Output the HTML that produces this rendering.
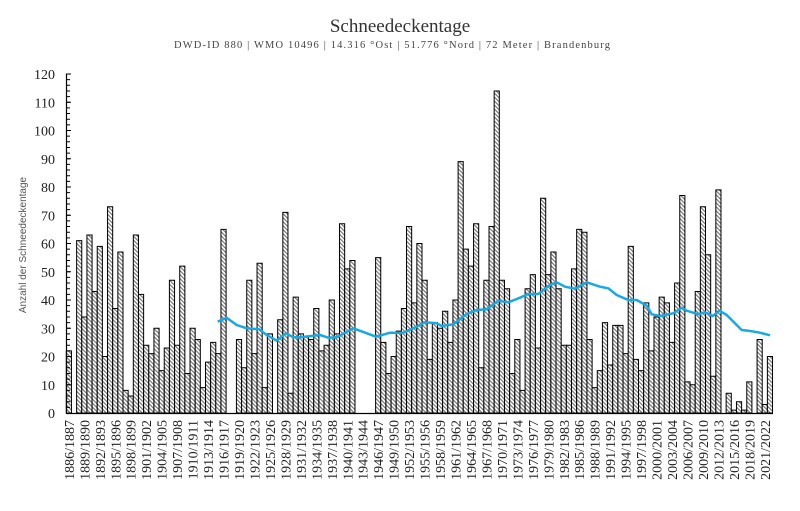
<!DOCTYPE html>
<html><head><meta charset="utf-8"><style>
html,body{margin:0;padding:0;background:#fff;}
svg{display:block;}
</style></head><body>
<svg width="800" height="511" xmlns="http://www.w3.org/2000/svg">
<defs>
<pattern id="h" patternUnits="userSpaceOnUse" width="4" height="4" patternTransform="scale(0.19399,-0.35398)">
<rect width="4" height="4" fill="#fff"/>
<path d="M-1,-1 L5,5 M-1,3 L1,5 M3,-1 L5,1" stroke="#7a7a7a" stroke-width="1.2"/>
</pattern>
</defs>
<text x="400" y="32" text-anchor="middle" font-family="Liberation Serif, serif" font-size="19" fill="#333">Schneedeckentage</text>
<text x="174" y="48" textLength="436" lengthAdjust="spacing" font-family="Liberation Serif, serif" font-size="10.5" fill="#444">DWD-ID 880  | WMO 10496  | 14.316 °Ost | 51.776 °Nord  | 72 Meter  | Brandenburg</text>
<text transform="translate(26,245) rotate(-90)" text-anchor="middle" font-family="Liberation Sans, sans-serif" font-size="10" fill="#555">Anzahl der Schneedeckentage</text>
<g transform="translate(66.3,413) scale(5.155,-2.825)" fill="url(#h)" stroke="#000" stroke-width="1">
<rect x="0" y="0" width="1" height="22" vector-effect="non-scaling-stroke"/>
<rect x="2" y="0" width="1" height="61" vector-effect="non-scaling-stroke"/>
<rect x="3" y="0" width="1" height="34" vector-effect="non-scaling-stroke"/>
<rect x="4" y="0" width="1" height="63" vector-effect="non-scaling-stroke"/>
<rect x="5" y="0" width="1" height="43" vector-effect="non-scaling-stroke"/>
<rect x="6" y="0" width="1" height="59" vector-effect="non-scaling-stroke"/>
<rect x="7" y="0" width="1" height="20" vector-effect="non-scaling-stroke"/>
<rect x="8" y="0" width="1" height="73" vector-effect="non-scaling-stroke"/>
<rect x="9" y="0" width="1" height="37" vector-effect="non-scaling-stroke"/>
<rect x="10" y="0" width="1" height="57" vector-effect="non-scaling-stroke"/>
<rect x="11" y="0" width="1" height="8" vector-effect="non-scaling-stroke"/>
<rect x="12" y="0" width="1" height="6" vector-effect="non-scaling-stroke"/>
<rect x="13" y="0" width="1" height="63" vector-effect="non-scaling-stroke"/>
<rect x="14" y="0" width="1" height="42" vector-effect="non-scaling-stroke"/>
<rect x="15" y="0" width="1" height="24" vector-effect="non-scaling-stroke"/>
<rect x="16" y="0" width="1" height="21" vector-effect="non-scaling-stroke"/>
<rect x="17" y="0" width="1" height="30" vector-effect="non-scaling-stroke"/>
<rect x="18" y="0" width="1" height="15" vector-effect="non-scaling-stroke"/>
<rect x="19" y="0" width="1" height="23" vector-effect="non-scaling-stroke"/>
<rect x="20" y="0" width="1" height="47" vector-effect="non-scaling-stroke"/>
<rect x="21" y="0" width="1" height="24" vector-effect="non-scaling-stroke"/>
<rect x="22" y="0" width="1" height="52" vector-effect="non-scaling-stroke"/>
<rect x="23" y="0" width="1" height="14" vector-effect="non-scaling-stroke"/>
<rect x="24" y="0" width="1" height="30" vector-effect="non-scaling-stroke"/>
<rect x="25" y="0" width="1" height="26" vector-effect="non-scaling-stroke"/>
<rect x="26" y="0" width="1" height="9" vector-effect="non-scaling-stroke"/>
<rect x="27" y="0" width="1" height="18" vector-effect="non-scaling-stroke"/>
<rect x="28" y="0" width="1" height="25" vector-effect="non-scaling-stroke"/>
<rect x="29" y="0" width="1" height="21" vector-effect="non-scaling-stroke"/>
<rect x="30" y="0" width="1" height="65" vector-effect="non-scaling-stroke"/>
<rect x="33" y="0" width="1" height="26" vector-effect="non-scaling-stroke"/>
<rect x="34" y="0" width="1" height="16" vector-effect="non-scaling-stroke"/>
<rect x="35" y="0" width="1" height="47" vector-effect="non-scaling-stroke"/>
<rect x="36" y="0" width="1" height="21" vector-effect="non-scaling-stroke"/>
<rect x="37" y="0" width="1" height="53" vector-effect="non-scaling-stroke"/>
<rect x="38" y="0" width="1" height="9" vector-effect="non-scaling-stroke"/>
<rect x="39" y="0" width="1" height="28" vector-effect="non-scaling-stroke"/>
<rect x="41" y="0" width="1" height="33" vector-effect="non-scaling-stroke"/>
<rect x="42" y="0" width="1" height="71" vector-effect="non-scaling-stroke"/>
<rect x="43" y="0" width="1" height="7" vector-effect="non-scaling-stroke"/>
<rect x="44" y="0" width="1" height="41" vector-effect="non-scaling-stroke"/>
<rect x="45" y="0" width="1" height="28" vector-effect="non-scaling-stroke"/>
<rect x="46" y="0" width="1" height="27" vector-effect="non-scaling-stroke"/>
<rect x="47" y="0" width="1" height="26" vector-effect="non-scaling-stroke"/>
<rect x="48" y="0" width="1" height="37" vector-effect="non-scaling-stroke"/>
<rect x="49" y="0" width="1" height="22" vector-effect="non-scaling-stroke"/>
<rect x="50" y="0" width="1" height="24" vector-effect="non-scaling-stroke"/>
<rect x="51" y="0" width="1" height="40" vector-effect="non-scaling-stroke"/>
<rect x="52" y="0" width="1" height="28" vector-effect="non-scaling-stroke"/>
<rect x="53" y="0" width="1" height="67" vector-effect="non-scaling-stroke"/>
<rect x="54" y="0" width="1" height="51" vector-effect="non-scaling-stroke"/>
<rect x="55" y="0" width="1" height="54" vector-effect="non-scaling-stroke"/>
<rect x="60" y="0" width="1" height="55" vector-effect="non-scaling-stroke"/>
<rect x="61" y="0" width="1" height="25" vector-effect="non-scaling-stroke"/>
<rect x="62" y="0" width="1" height="14" vector-effect="non-scaling-stroke"/>
<rect x="63" y="0" width="1" height="20" vector-effect="non-scaling-stroke"/>
<rect x="64" y="0" width="1" height="29" vector-effect="non-scaling-stroke"/>
<rect x="65" y="0" width="1" height="37" vector-effect="non-scaling-stroke"/>
<rect x="66" y="0" width="1" height="66" vector-effect="non-scaling-stroke"/>
<rect x="67" y="0" width="1" height="39" vector-effect="non-scaling-stroke"/>
<rect x="68" y="0" width="1" height="60" vector-effect="non-scaling-stroke"/>
<rect x="69" y="0" width="1" height="47" vector-effect="non-scaling-stroke"/>
<rect x="70" y="0" width="1" height="19" vector-effect="non-scaling-stroke"/>
<rect x="71" y="0" width="1" height="32" vector-effect="non-scaling-stroke"/>
<rect x="72" y="0" width="1" height="30" vector-effect="non-scaling-stroke"/>
<rect x="73" y="0" width="1" height="36" vector-effect="non-scaling-stroke"/>
<rect x="74" y="0" width="1" height="25" vector-effect="non-scaling-stroke"/>
<rect x="75" y="0" width="1" height="40" vector-effect="non-scaling-stroke"/>
<rect x="76" y="0" width="1" height="89" vector-effect="non-scaling-stroke"/>
<rect x="77" y="0" width="1" height="58" vector-effect="non-scaling-stroke"/>
<rect x="78" y="0" width="1" height="52" vector-effect="non-scaling-stroke"/>
<rect x="79" y="0" width="1" height="67" vector-effect="non-scaling-stroke"/>
<rect x="80" y="0" width="1" height="16" vector-effect="non-scaling-stroke"/>
<rect x="81" y="0" width="1" height="47" vector-effect="non-scaling-stroke"/>
<rect x="82" y="0" width="1" height="66" vector-effect="non-scaling-stroke"/>
<rect x="83" y="0" width="1" height="114" vector-effect="non-scaling-stroke"/>
<rect x="84" y="0" width="1" height="47" vector-effect="non-scaling-stroke"/>
<rect x="85" y="0" width="1" height="44" vector-effect="non-scaling-stroke"/>
<rect x="86" y="0" width="1" height="14" vector-effect="non-scaling-stroke"/>
<rect x="87" y="0" width="1" height="26" vector-effect="non-scaling-stroke"/>
<rect x="88" y="0" width="1" height="8" vector-effect="non-scaling-stroke"/>
<rect x="89" y="0" width="1" height="44" vector-effect="non-scaling-stroke"/>
<rect x="90" y="0" width="1" height="49" vector-effect="non-scaling-stroke"/>
<rect x="91" y="0" width="1" height="23" vector-effect="non-scaling-stroke"/>
<rect x="92" y="0" width="1" height="76" vector-effect="non-scaling-stroke"/>
<rect x="93" y="0" width="1" height="49" vector-effect="non-scaling-stroke"/>
<rect x="94" y="0" width="1" height="57" vector-effect="non-scaling-stroke"/>
<rect x="95" y="0" width="1" height="44" vector-effect="non-scaling-stroke"/>
<rect x="96" y="0" width="1" height="24" vector-effect="non-scaling-stroke"/>
<rect x="97" y="0" width="1" height="24" vector-effect="non-scaling-stroke"/>
<rect x="98" y="0" width="1" height="51" vector-effect="non-scaling-stroke"/>
<rect x="99" y="0" width="1" height="65" vector-effect="non-scaling-stroke"/>
<rect x="100" y="0" width="1" height="64" vector-effect="non-scaling-stroke"/>
<rect x="101" y="0" width="1" height="26" vector-effect="non-scaling-stroke"/>
<rect x="102" y="0" width="1" height="9" vector-effect="non-scaling-stroke"/>
<rect x="103" y="0" width="1" height="15" vector-effect="non-scaling-stroke"/>
<rect x="104" y="0" width="1" height="32" vector-effect="non-scaling-stroke"/>
<rect x="105" y="0" width="1" height="17" vector-effect="non-scaling-stroke"/>
<rect x="106" y="0" width="1" height="31" vector-effect="non-scaling-stroke"/>
<rect x="107" y="0" width="1" height="31" vector-effect="non-scaling-stroke"/>
<rect x="108" y="0" width="1" height="21" vector-effect="non-scaling-stroke"/>
<rect x="109" y="0" width="1" height="59" vector-effect="non-scaling-stroke"/>
<rect x="110" y="0" width="1" height="19" vector-effect="non-scaling-stroke"/>
<rect x="111" y="0" width="1" height="15" vector-effect="non-scaling-stroke"/>
<rect x="112" y="0" width="1" height="39" vector-effect="non-scaling-stroke"/>
<rect x="113" y="0" width="1" height="22" vector-effect="non-scaling-stroke"/>
<rect x="114" y="0" width="1" height="34" vector-effect="non-scaling-stroke"/>
<rect x="115" y="0" width="1" height="41" vector-effect="non-scaling-stroke"/>
<rect x="116" y="0" width="1" height="39" vector-effect="non-scaling-stroke"/>
<rect x="117" y="0" width="1" height="25" vector-effect="non-scaling-stroke"/>
<rect x="118" y="0" width="1" height="46" vector-effect="non-scaling-stroke"/>
<rect x="119" y="0" width="1" height="77" vector-effect="non-scaling-stroke"/>
<rect x="120" y="0" width="1" height="11" vector-effect="non-scaling-stroke"/>
<rect x="121" y="0" width="1" height="10" vector-effect="non-scaling-stroke"/>
<rect x="122" y="0" width="1" height="43" vector-effect="non-scaling-stroke"/>
<rect x="123" y="0" width="1" height="73" vector-effect="non-scaling-stroke"/>
<rect x="124" y="0" width="1" height="56" vector-effect="non-scaling-stroke"/>
<rect x="125" y="0" width="1" height="13" vector-effect="non-scaling-stroke"/>
<rect x="126" y="0" width="1" height="79" vector-effect="non-scaling-stroke"/>
<rect x="128" y="0" width="1" height="7" vector-effect="non-scaling-stroke"/>
<rect x="129" y="0" width="1" height="1" vector-effect="non-scaling-stroke"/>
<rect x="130" y="0" width="1" height="4" vector-effect="non-scaling-stroke"/>
<rect x="131" y="0" width="1" height="1" vector-effect="non-scaling-stroke"/>
<rect x="132" y="0" width="1" height="11" vector-effect="non-scaling-stroke"/>
<rect x="134" y="0" width="1" height="26" vector-effect="non-scaling-stroke"/>
<rect x="135" y="0" width="1" height="3" vector-effect="non-scaling-stroke"/>
<rect x="136" y="0" width="1" height="20" vector-effect="non-scaling-stroke"/>
</g>
<polyline fill="none" stroke="#18a8e4" stroke-width="2.5" stroke-linejoin="round" points="217.7,321.7 226.7,317.7 236.7,325 246.7,328.3 259,329.3 266.7,335 276.7,340.7 286,333.3 293.3,337.3 300,337.3 320,335 328.3,337.7 336.7,337.3 353.3,328.3 376,336.7 390,332.7 403.3,332.7 416.7,326.7 425,322.3 436.7,323.3 441.7,326 453.3,324.3 466.7,314 476.7,310 486.7,309.3 498.3,300.7 508.3,302.3 520,297.7 528.3,294 538.3,294 550,285 556.7,282.3 565,286.7 575,288.7 586.7,282.3 600,286.7 608.3,288.3 616.7,295 628.3,300 636.7,300 646.7,305.7 651.7,314.3 660,316 673.3,313.3 681.7,307.7 686.7,310.7 698.3,314.3 705,312.3 712.7,316 719.3,310.7 726.7,315 741.7,330 748.3,330.7 760,332.7 770,335.3"/>
<line x1="66.5" y1="73.5" x2="66.5" y2="413.5" stroke="#000" stroke-width="1.2"/>
<line x1="66" y1="413.5" x2="773" y2="413.5" stroke="#000" stroke-width="1.2"/>
<line x1="68.5" y1="413.5" x2="68.5" y2="73.5" stroke="#000" stroke-width="3" stroke-dasharray="1 4.65"/>
<line x1="69" y1="413.5" x2="69" y2="73.5" stroke="#000" stroke-width="4" stroke-dasharray="1 27.25"/>
<g font-family="Liberation Serif, serif" font-size="14" fill="#222" text-anchor="end">
<text x="55" y="418">0</text>
<text x="55" y="389.8">10</text>
<text x="55" y="361.5">20</text>
<text x="55" y="333.3">30</text>
<text x="55" y="305">40</text>
<text x="55" y="276.8">50</text>
<text x="55" y="248.5">60</text>
<text x="55" y="220.3">70</text>
<text x="55" y="192">80</text>
<text x="55" y="163.8">90</text>
<text x="55" y="135.5">100</text>
<text x="55" y="107.3">110</text>
<text x="55" y="79">120</text>
</g>
<g font-family="Liberation Serif, serif" font-size="14" fill="#222" text-anchor="end">
<text transform="translate(73.9,420) rotate(-90)">1886/1887</text>
<text transform="translate(89.3,420) rotate(-90)">1889/1890</text>
<text transform="translate(104.8,420) rotate(-90)">1892/1893</text>
<text transform="translate(120.3,420) rotate(-90)">1895/1896</text>
<text transform="translate(135.7,420) rotate(-90)">1898/1899</text>
<text transform="translate(151.2,420) rotate(-90)">1901/1902</text>
<text transform="translate(166.7,420) rotate(-90)">1904/1905</text>
<text transform="translate(182.1,420) rotate(-90)">1907/1908</text>
<text transform="translate(197.6,420) rotate(-90)">1910/1911</text>
<text transform="translate(213.1,420) rotate(-90)">1913/1914</text>
<text transform="translate(228.5,420) rotate(-90)">1916/1917</text>
<text transform="translate(244,420) rotate(-90)">1919/1920</text>
<text transform="translate(259.5,420) rotate(-90)">1922/1923</text>
<text transform="translate(274.9,420) rotate(-90)">1925/1926</text>
<text transform="translate(290.4,420) rotate(-90)">1928/1929</text>
<text transform="translate(305.9,420) rotate(-90)">1931/1932</text>
<text transform="translate(321.3,420) rotate(-90)">1934/1935</text>
<text transform="translate(336.8,420) rotate(-90)">1937/1938</text>
<text transform="translate(352.3,420) rotate(-90)">1940/1941</text>
<text transform="translate(367.7,420) rotate(-90)">1943/1944</text>
<text transform="translate(383.2,420) rotate(-90)">1946/1947</text>
<text transform="translate(398.6,420) rotate(-90)">1949/1950</text>
<text transform="translate(414.1,420) rotate(-90)">1952/1953</text>
<text transform="translate(429.6,420) rotate(-90)">1955/1956</text>
<text transform="translate(445,420) rotate(-90)">1958/1959</text>
<text transform="translate(460.5,420) rotate(-90)">1961/1962</text>
<text transform="translate(476,420) rotate(-90)">1964/1965</text>
<text transform="translate(491.4,420) rotate(-90)">1967/1968</text>
<text transform="translate(506.9,420) rotate(-90)">1970/1971</text>
<text transform="translate(522.4,420) rotate(-90)">1973/1974</text>
<text transform="translate(537.8,420) rotate(-90)">1976/1977</text>
<text transform="translate(553.3,420) rotate(-90)">1979/1980</text>
<text transform="translate(568.8,420) rotate(-90)">1982/1983</text>
<text transform="translate(584.2,420) rotate(-90)">1985/1986</text>
<text transform="translate(599.7,420) rotate(-90)">1988/1989</text>
<text transform="translate(615.2,420) rotate(-90)">1991/1992</text>
<text transform="translate(630.6,420) rotate(-90)">1994/1995</text>
<text transform="translate(646.1,420) rotate(-90)">1997/1998</text>
<text transform="translate(661.6,420) rotate(-90)">2000/2001</text>
<text transform="translate(677,420) rotate(-90)">2003/2004</text>
<text transform="translate(692.5,420) rotate(-90)">2006/2007</text>
<text transform="translate(708,420) rotate(-90)">2009/2010</text>
<text transform="translate(723.4,420) rotate(-90)">2012/2013</text>
<text transform="translate(738.9,420) rotate(-90)">2015/2016</text>
<text transform="translate(754.4,420) rotate(-90)">2018/2019</text>
<text transform="translate(769.8,420) rotate(-90)">2021/2022</text>
</g>
</svg>
</body></html>
